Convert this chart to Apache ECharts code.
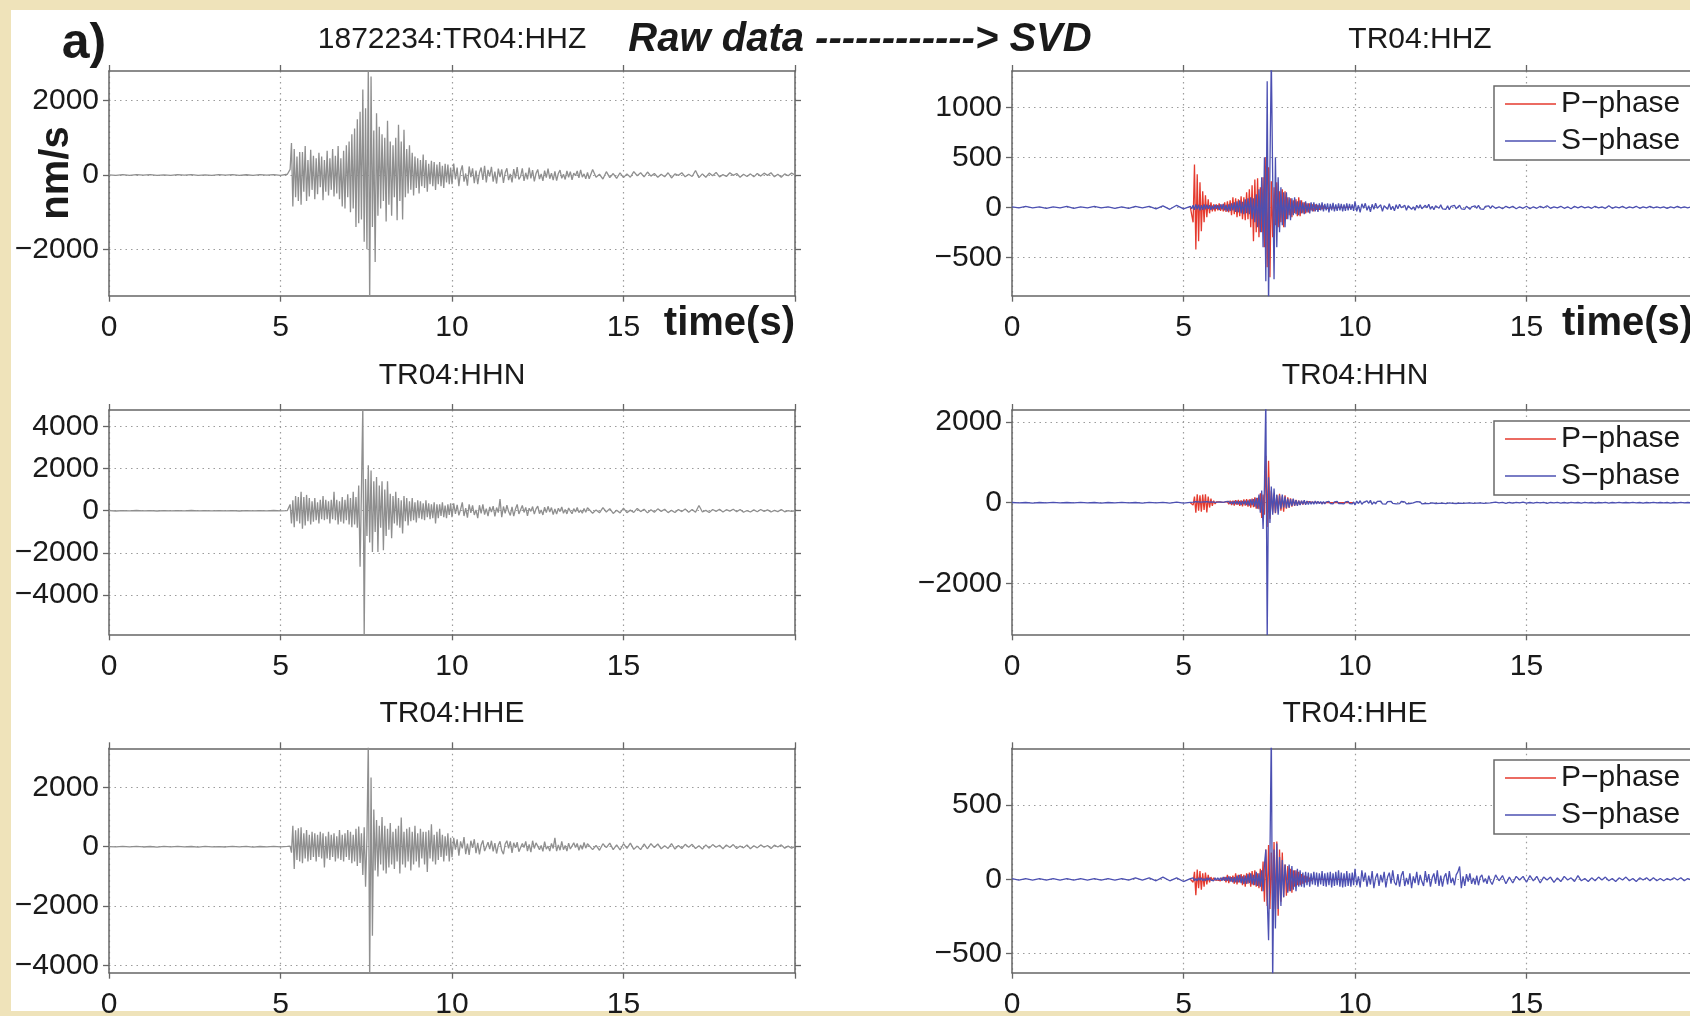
<!DOCTYPE html>
<html><head><meta charset="utf-8">
<script src="https://cdn.jsdelivr.net/npm/echarts@6/dist/echarts.min.js"></script>
<style>
html,body{margin:0;padding:0;background:#efe3ba;overflow:hidden;}
#paper{position:absolute;left:11px;top:10px;width:1679px;height:1001px;background:#fff;}
#c{position:absolute;left:0;top:0;width:1690px;height:1016px;}
</style>
</head><body><div id="paper"></div><div id="c"></div>
<script>
// ---------------- data
// sampling grids: pre 0..5.0 step 0.2 | main 5.20..9.96 step 0.04 | codaA 10.00..13.95 step 0.05 | codaB 14.0..20.0 step 0.1
const xTicks = [0, 5, 10, 15, 20];
const zRawTicks = [-2000, 0, 2000];
const nRawTicks = [-4000, -2000, 0, 2000, 4000];
const eRawTicks = [-4000, -2000, 0, 2000];
const zSvdTicks = [-500, 0, 500, 1000];
const nSvdTicks = [-2000, 0, 2000];
const eSvdTicks = [-500, 0, 500];

// raw HHZ
const zRawPre = [5,-10,8,-12,10,-5,12,-8,5,-10,10,-6,8,-12,5,-8,12,-5,10,-12,6,-10,8,-6,12,-8];
const zRawMain = [
20,-30,150,860,-850,700,-600,500,-700,620,
-800,620,-450,780,-700,400,-580,680,-400,520,
-650,450,-520,600,-330,500,-680,400,-450,650,
-550,450,-400,700,-580,520,-500,780,-650,450,
-850,650,-900,800,-600,900,-1000,1100,-900,1250,
-1400,1500,-1300,1700,-1200,2300,-1800,1800,-2000,3000,
-3500,2650,-1400,1200,-2340,1660,-1100,1300,-900,1100,
-700,1000,-1250,1460,-800,900,-1100,800,-600,1000,
-1215,1350,-700,900,-1200,1215,-600,700,-500,800,
-400,600,-550,500,-350,450,-500,400,-300,550,
-350,400,-450,300,-250,380,-300,350,-400,280,
-250,350,-300,250,-350,300,-200,280,-250,200];
const zRawCodaA = [
-250,310,-120,200,-300,90,260,-180,40,-290,
230,-60,180,-220,120,-250,60,200,-130,250,
-200,140,-40,220,-180,90,-230,170,-60,150,
-210,60,180,-140,30,-200,160,-90,210,-120,
-40,180,-160,60,-120,200,-90,130,-170,40,
150,-110,30,-160,120,-70,170,-100,50,-140,
100,-150,40,130,-90,20,-120,110,-60,90,
-130,50,-20,110,-80,140,-60,30,-100,70];
const zRawCodaB = [
-100,150,-60,20,-110,90,-70,40,-90,60,
-70,30,-60,90,-20,60,-50,80,-30,40,
-60,20,-50,60,-80,30,-10,60,-50,20,
-40,120,-70,30,-60,50,-20,70,-50,10,
-40,60,-10,40,-60,20,-40,30,-50,40,
-30,50,-10,60,-50,20,-60,30,-20,50,0];

// raw HHN
const nRawPre = [8,-12,10,-6,12,-10,5,-12,10,-8,6,-10,12,-5,8,-10,6,-8,10,-12,8,-5,10,-8,12,-10];
const nRawMain = [
10,-20,300,-600,500,-780,700,-500,650,-600,
900,-850,650,-700,750,-500,600,-650,450,-520,
600,-450,400,-600,520,-400,700,-450,520,-400,
450,-600,520,-400,900,-450,520,-650,450,-520,
650,-600,520,-450,780,-650,600,-780,900,-650,
650,-800,1200,-2650,1000,5000,-6000,1500,-1200,2150,
-1500,1900,-1950,1400,-1000,1600,-1950,1200,-800,1400,
-1870,1000,-1200,1400,-900,800,-1300,700,-600,900,
-700,600,-800,500,-1080,700,-500,600,-700,450,
-500,600,-450,400,-550,500,-350,450,-400,350,
-450,500,-300,350,-400,300,-350,400,-600,300,
-350,300,-250,400,-300,250,-350,300,-200,350];
const nRawCodaA = [
-300,350,-150,280,-220,60,400,-250,120,-330,
300,-100,250,-200,40,-350,260,-120,300,-180,
100,-250,180,-60,220,-270,150,-90,550,-300,
200,-120,260,-40,-220,180,-250,80,300,-150,
-200,250,-80,160,-240,120,-30,200,-160,90,
220,-140,40,-200,170,-90,210,-60,150,-180,
80,-160,120,-40,180,-120,60,-150,130,-20,
-140,100,-60,150,-90,30,-120,110,-70,140];
const nRawCodaB = [
130,-120,40,-100,150,-60,100,-130,20,-100,
120,-90,30,-80,110,-40,70,-100,50,-70,
90,-30,70,-90,20,-80,60,-40,80,-70,
60,-70,250,-60,20,-80,60,-30,70,-60,
50,-20,70,-50,60,-70,10,-60,40,-50,
60,-30,40,-60,20,-40,60,-50,10,-30,0];

// raw HHE
const eRawPre = [5,-8,10,-6,12,-10,6,-12,8,-5,10,-8,6,-12,10,-8,5,-10,12,-6,8,-12,6,-8,10,-6];
const eRawMain = [
10,-15,20,-200,700,-750,550,-450,620,-500,
650,-560,450,-400,560,-500,400,-450,500,-350,
450,-500,400,-350,500,-400,450,-700,350,-400,
500,-450,400,-350,450,-500,350,-400,560,-450,
400,-500,450,-350,560,-450,500,-560,400,-500,
600,-650,680,-550,450,-950,650,-1350,300,3600,
-4500,2330,-3000,1250,-800,900,-1000,700,-600,1000,
-800,700,-900,600,-700,800,-600,500,-750,600,
-500,700,-900,980,-600,500,-700,600,-500,650,
-800,500,-600,700,-500,450,-700,600,-400,500,
-600,500,-850,550,-400,750,-500,400,-600,500,
-450,600,-350,400,-500,350,-300,450,-500,300];
const eRawCodaA = [
-350,300,-100,250,-300,180,-60,320,-250,100,
-280,200,-40,250,-220,130,-260,60,210,-150,
-200,150,-80,200,-160,120,-230,50,180,-130,
-250,90,200,-60,180,-210,130,-40,150,-170,
-200,110,-30,180,-150,80,-180,200,-60,130,
120,-100,40,-160,170,-80,20,-150,110,-60,
300,-150,60,-120,180,-100,40,-150,120,-80,
-100,130,-30,110,-120,60,-90,140,-50,100];
const eRawCodaB = [
150,-100,40,-120,100,-30,120,-100,60,-110,
100,-60,120,-90,20,-100,90,-70,100,-30,
90,-70,30,-60,100,-80,40,-60,80,-20,
80,-60,30,-80,60,-50,70,-20,50,-70,
60,-30,70,-60,20,-40,60,-70,30,-40,
60,-20,40,-60,50,-10,60,-50,20,-50,0];

// SVD HHZ
const zPMain = [
0,10,-150,427,-423,330,-340,250,-240,160,
-150,120,-100,80,-60,50,-40,30,-40,30,
-30,40,-35,30,-40,50,-45,60,-50,70,
-80,100,-70,90,-100,80,-90,110,-120,100,
-130,150,-120,180,-200,220,-340,277,-250,290,
-300,200,-250,300,-400,500,-600,400,-700,260,
-300,200,-180,250,-200,160,-150,180,-200,160,
-120,100,-80,90,-100,70,-60,80,-90,100,
-90,70,-60,50,-60,40,-50,40,-30,30,
-40,30,-25,20,-25,15,-20,15,-10,10,
-10,10,-5,5,-5,5,-5,0,0,0,
0,0,0,0,0,0,0,0,0,0];
const zSPre = [5,-5,10,-5,5,-10,5,-5,10,-10,5,-5,10,-5,5,-10,5,-10,10,-5,10,-15,15,-20,20,-15];
const zSMain = [
10,-15,20,-25,30,-20,25,-30,20,-25,
30,-20,25,-15,20,-25,15,-20,25,-15,
20,-25,30,-20,35,-30,25,-40,30,-35,
40,-30,50,-45,60,-50,70,-60,55,-70,
80,-60,90,-70,100,-120,90,-150,130,-200,
180,-250,300,-400,500,-740,1260,-1000,400,1500,
300,-720,500,-400,300,-250,200,-180,150,-200,
150,-120,100,-130,90,-80,100,-70,60,-80,
70,-60,50,-70,60,-50,40,-60,50,-40,
50,-40,35,-45,40,-30,50,-40,35,-30,
40,-50,35,-30,45,-40,30,-35,40,-30,
35,-40,30,-35,40,-30,35,-25,30,-35];
const zSCodaA = [
60,-40,20,-50,35,-10,40,-30,15,-45,
30,-20,40,-10,-30,25,-40,15,30,-20,
35,-25,10,-35,25,-15,30,-5,-25,20,
-30,15,25,-20,5,-30,20,-10,25,-15,
-25,20,-5,30,-20,10,-25,15,20,-10,
25,-15,5,-20,15,-25,10,-5,20,-15,
-10,20,-15,5,-20,10,15,-20,5,-10,
15,-10,20,-15,5,-20,10,-5,15,-10];
const zSCodaB = [
15,-10,5,-15,10,-5,10,-15,5,-10,
10,-15,5,-10,10,-5,15,-10,5,-5,
10,-10,5,-15,10,-5,10,-5,5,-10,
10,-5,5,-10,15,-10,5,-5,10,-10,
5,-5,10,-10,5,-5,10,-5,5,-5,
5,-10,5,-5,10,-5,5,-5,5,-5,0];

// SVD HHN
const nPMain = [
0,10,-60,150,-250,210,-200,180,-220,200,
-180,210,-240,150,-120,100,-80,50,-30,20,
-15,20,-15,10,-20,15,-20,30,-40,50,
-60,50,-70,60,-50,70,-80,60,-90,80,
-70,90,-100,80,-120,100,-110,130,-150,120,
-160,230,-380,200,-300,1160,-600,1040,-400,300,
-250,200,-260,180,-150,220,-200,160,-220,180,
-150,130,-120,110,-100,90,-80,70,-60,50,
-50,40,-45,35,-30,25,-20,20,-15,10,
-10,10,-5,5,0,0,0,0,0,0,
0,0,0,0,0,0,0,0,0,0,
0,0,0,0,0,0,0,0,0,0];
const nSPre = [5,-5,5,-10,5,-5,10,-5,5,-5,10,-5,5,-10,5,-5,10,-5,5,-10,10,-5,10,-10,15,-10];
const nSMain = [
10,-10,15,-20,25,-15,20,-25,15,-20,
20,-15,25,-20,15,-10,20,-15,10,-15,
15,-10,20,-15,10,-20,25,-20,30,-25,
30,-35,40,-30,45,-40,35,-50,45,-40,
50,-60,55,-70,80,-60,90,-100,120,-150,
200,-250,300,-650,400,2600,-3400,630,-500,400,
-300,350,-250,200,-300,180,-150,200,-120,150,
-130,100,-120,90,-80,100,-70,60,-80,50,
-60,50,-40,60,-50,40,-45,35,-40,30,
-35,40,-30,35,-25,30,-35,25,-30,20,
-25,30,-20,25,-30,20,-25,30,-20,25,
-20,25,-30,20,-25,30,-20,25,-30,20];
const nSCodaA = [
-60,40,-20,50,-40,10,-30,45,-15,60,
-45,20,-30,35,-10,40,-30,15,-35,25,
-20,35,-15,25,-30,10,-25,30,-10,20,
-30,15,-20,25,-5,-20,25,-15,20,-30,
15,-20,10,-25,20,-5,15,-20,10,-15,
20,-10,15,-25,10,-5,20,-15,10,-20,
15,-10,5,-15,20,-10,15,-5,10,-15,
5,-10,15,-5,10,-15,5,-10,15,-5];
const nSCodaB = [
-10,15,-5,10,-15,5,-10,10,-5,15,
-10,5,-10,10,-5,10,-15,5,-5,10,
-10,5,-10,10,-5,5,-10,10,-5,5,
-10,5,-5,10,-10,5,-5,10,-5,5,
-5,10,-5,5,-10,5,-5,10,-5,5,
-5,5,-10,5,-5,10,-5,5,-5,5,0];

// SVD HHE
const ePMain = [
0,5,-20,50,-107,65,-60,55,-70,40,
-50,45,-35,30,-20,15,-10,10,-5,5,
-5,5,-10,10,-5,15,-20,30,-25,20,
-15,25,-30,40,-35,30,-20,35,-40,30,
-50,40,-30,45,-50,55,-40,60,-50,40,
-60,70,-80,120,-150,200,-180,230,-200,180,
-150,250,-200,255,-245,200,-150,180,-120,100,
-110,90,-80,70,-90,60,-50,60,-40,50,
-40,35,-30,25,-20,20,-15,10,-10,5,
0,0,0,0,0,0,0,0,0,0,
0,0,0,0,0,0,0,0,0,0,
0,0,0,0,0,0,0,0,0,0];
const eSPre = [5,-5,5,-5,5,-5,5,-5,5,-5,5,-5,5,-5,5,-5,5,-5,10,-5,10,-10,15,-10,10,-15];
const eSMain = [
5,-5,10,-10,5,-10,10,-5,10,-10,
5,-10,10,-5,10,-5,5,-10,10,-5,
10,-5,10,-10,15,-10,15,-10,20,-15,
15,-20,15,-20,25,-20,30,-25,20,-30,
25,-30,35,-25,40,-35,30,-40,50,-45,
40,-50,60,-80,100,200,-120,-410,150,1000,
-700,200,-330,240,-200,150,-180,130,-120,100,
110,-90,100,-80,90,-70,60,-80,70,-50,
60,-50,45,-55,50,-40,45,-50,40,-35,
50,-40,45,-50,40,-35,55,-45,40,-50,
45,-40,50,-55,40,-45,50,-40,60,-50,
45,-55,40,-50,55,-45,40,-50,45,-40];
const eSCodaA = [
70,-40,20,-55,60,-15,45,-50,25,-35,
55,-60,10,40,-45,30,-20,50,-55,15,
45,-30,60,-20,-40,35,-50,25,55,-45,
10,-35,40,-60,20,-25,50,-40,30,-15,
-45,55,-20,35,-50,10,40,-30,60,-45,
25,-50,15,40,-35,55,-25,10,-40,30,
50,86,-60,20,-45,35,-15,40,-30,10,
-35,25,-40,15,30,-20,5,-30,25,-15];
const eSCodaB = [
-35,30,-10,25,-30,15,-25,20,-5,20,
-20,25,-10,20,-25,15,-5,15,-20,10,
-15,20,-5,10,-15,25,-10,5,-15,10,
-10,15,-5,15,-10,5,-15,10,-5,15,
-10,5,-15,10,-5,10,-10,10,-10,5,
-10,5,-5,10,-5,10,-10,5,-5,10,0];

// ---------------- build
const PRE = [0, 0.2], MAIN = [5.2, 0.04], CODA_A = [10, 0.05], CODA_B = [14, 0.1];
function pairs(segs) {
  const out = [];
  segs.forEach(([g, arr]) => arr.forEach((v, i) => out.push([+(g[0] + i * g[1]).toFixed(3), v])));
  return out;
}
const GRAY = '#8f8f8f', RED = '#e53a2e', BLUE = '#4c50b2';
const FONT = '"Liberation Sans", Arial, Helvetica, sans-serif';
const AX = '#666666';

const panels = [
  {left:109,  top:71,    h:224.7, min:-3250, max:2800, ticks:zRawTicks,
   series:[{name:'HHZ raw', color:GRAY, data:pairs([[PRE,zRawPre],[MAIN,zRawMain],[CODA_A,zRawCodaA],[CODA_B,zRawCodaB]])}]},
  {left:1012, top:71,    h:224.7, min:-884,  max:1363, ticks:zSvdTicks,
   series:[{name:'P\u2212phase', color:RED, data:pairs([[MAIN,zPMain]])},
           {name:'S\u2212phase', color:BLUE, data:pairs([[PRE,zSPre],[MAIN,zSMain],[CODA_A,zSCodaA],[CODA_B,zSCodaB]])}]},
  {left:109,  top:410,   h:224.3, min:-5850, max:4770, ticks:nRawTicks,
   series:[{name:'HHN raw', color:GRAY, data:pairs([[PRE,nRawPre],[MAIN,nRawMain],[CODA_A,nRawCodaA],[CODA_B,nRawCodaB]])}]},
  {left:1012, top:410,   h:224.3, min:-3257, max:2294, ticks:nSvdTicks,
   series:[{name:'P\u2212phase', color:RED, data:pairs([[MAIN,nPMain]])},
           {name:'S\u2212phase', color:BLUE, data:pairs([[PRE,nSPre],[MAIN,nSMain],[CODA_A,nSCodaA],[CODA_B,nSCodaB]])}]},
  {left:109,  top:748.3, h:224.4, min:-4240, max:3310, ticks:eRawTicks,
   series:[{name:'HHE raw', color:GRAY, data:pairs([[PRE,eRawPre],[MAIN,eRawMain],[CODA_A,eRawCodaA],[CODA_B,eRawCodaB]])}]},
  {left:1012, top:748.3, h:224.4, min:-628,  max:881,  ticks:eSvdTicks,
   series:[{name:'P\u2212phase', color:RED, data:pairs([[MAIN,ePMain]])},
           {name:'S\u2212phase', color:BLUE, data:pairs([[PRE,eSPre],[MAIN,eSMain],[CODA_A,eSCodaA],[CODA_B,eSCodaB]])}]}
];

const grid = [], xAxis = [], yAxis = [], series = [];
const lineAx = {show:true, onZero:false, lineStyle:{color:AX, width:1.5}};
const tickSt = {color:AX, width:1.3};
const splitSt = {show:true, lineStyle:{color:'#9c9c9c', width:1.2, type:[1.5, 4]}};
const lab = {fontSize:30, fontFamily:FONT, color:'#1a1a1a'};
panels.forEach((p, i) => {
  grid.push({left:p.left, top:p.top, width:686, height:p.h, outerBoundsMode:'none', containLabel:false, show:false});
  xAxis.push({gridIndex:i, type:'value', min:xTicks[0], max:xTicks[xTicks.length - 1], interval:5, position:'bottom',
    axisLine:lineAx, axisTick:{show:true, inside:false, length:6, lineStyle:tickSt},
    axisLabel:Object.assign({show:true, margin:17, formatter:v => v === 20 ? '' : String(v)}, lab),
    splitLine:splitSt});
  xAxis.push({gridIndex:i, type:'value', min:xTicks[0], max:xTicks[xTicks.length - 1], interval:5, position:'top',
    axisLine:lineAx, axisTick:{show:true, inside:false, length:6, lineStyle:tickSt},
    axisLabel:{show:false}, splitLine:{show:false}});
  yAxis.push({gridIndex:i, type:'value', min:p.min, max:p.max, position:'left',
    axisLine:lineAx, axisTick:{show:true, inside:false, length:6, lineStyle:tickSt, customValues:p.ticks},
    axisLabel:Object.assign({show:true, margin:10, customValues:p.ticks,
      formatter:v => String(v).replace('-', '\u2212')}, lab),
    splitLine:splitSt});
  yAxis.push({gridIndex:i, type:'value', min:p.min, max:p.max, position:'right',
    axisLine:lineAx, axisTick:{show:true, inside:false, length:6, lineStyle:tickSt, customValues:p.ticks},
    axisLabel:{show:false, customValues:p.ticks}, splitLine:{show:false}});
  p.series.forEach(s => series.push({
    name:s.name, type:'line', xAxisIndex:2*i, yAxisIndex:2*i, data:s.data,
    showSymbol:false, symbol:'none', color:s.color, itemStyle:{color:s.color},
    lineStyle:{color:s.color, width:1.3}, silent:true, animation:false, clip:true, z:3
  }));
});

const legends = [86, 421, 760].map(t => ({
  orient:'vertical', left:1494, top:t, icon:'rect', itemWidth:51, itemHeight:1.5, itemGap:7,
  padding:[3, 20, 4, 11], backgroundColor:'#ffffff', borderColor:'#6a6a6a', borderWidth:1.5,
  selectedMode:false, textStyle:{fontSize:30, fontFamily:FONT, color:'#1a1a1a'},
  data:['P\u2212phase', 'S\u2212phase'], z:10
}));

function txt(text, x, y, font, align, extra) {
  return Object.assign({type:'text', x:x, y:y, z:20,
    style:{text:text, font:font, fill:'#1a1a1a', textAlign:align || 'center', textVerticalAlign:'middle'}}, extra || {});
}
const graphics = [
  txt('a)', 84, 44, 'bold 50px ' + FONT),
  txt('1872234:TR04:HHZ', 452, 40, '30px ' + FONT),
  txt('Raw data ------------> SVD', 860, 40, 'italic bold 40px ' + FONT),
  txt('TR04:HHZ', 1420, 40, '30px ' + FONT),
  txt('TR04:HHN', 452, 376, '30px ' + FONT),
  txt('TR04:HHN', 1355, 376, '30px ' + FONT),
  txt('TR04:HHE', 452, 714, '30px ' + FONT),
  txt('TR04:HHE', 1355, 714, '30px ' + FONT),
  txt('nm/s', 57, 173, 'bold 40px ' + FONT, 'center', {rotation:Math.PI / 2}),
  txt('time(s)', 795, 324, 'bold 40px ' + FONT, 'right'),
  txt('time(s)', 1562, 324, 'bold 40px ' + FONT, 'left')
];

const chart = echarts.init(document.getElementById('c'), null, {renderer:'canvas'});
chart.setOption({
  backgroundColor:'transparent', animation:false,
  grid:grid, xAxis:xAxis, yAxis:yAxis, series:series, legend:legends,
  graphic:{elements:graphics}
});
</script>
</body></html>
